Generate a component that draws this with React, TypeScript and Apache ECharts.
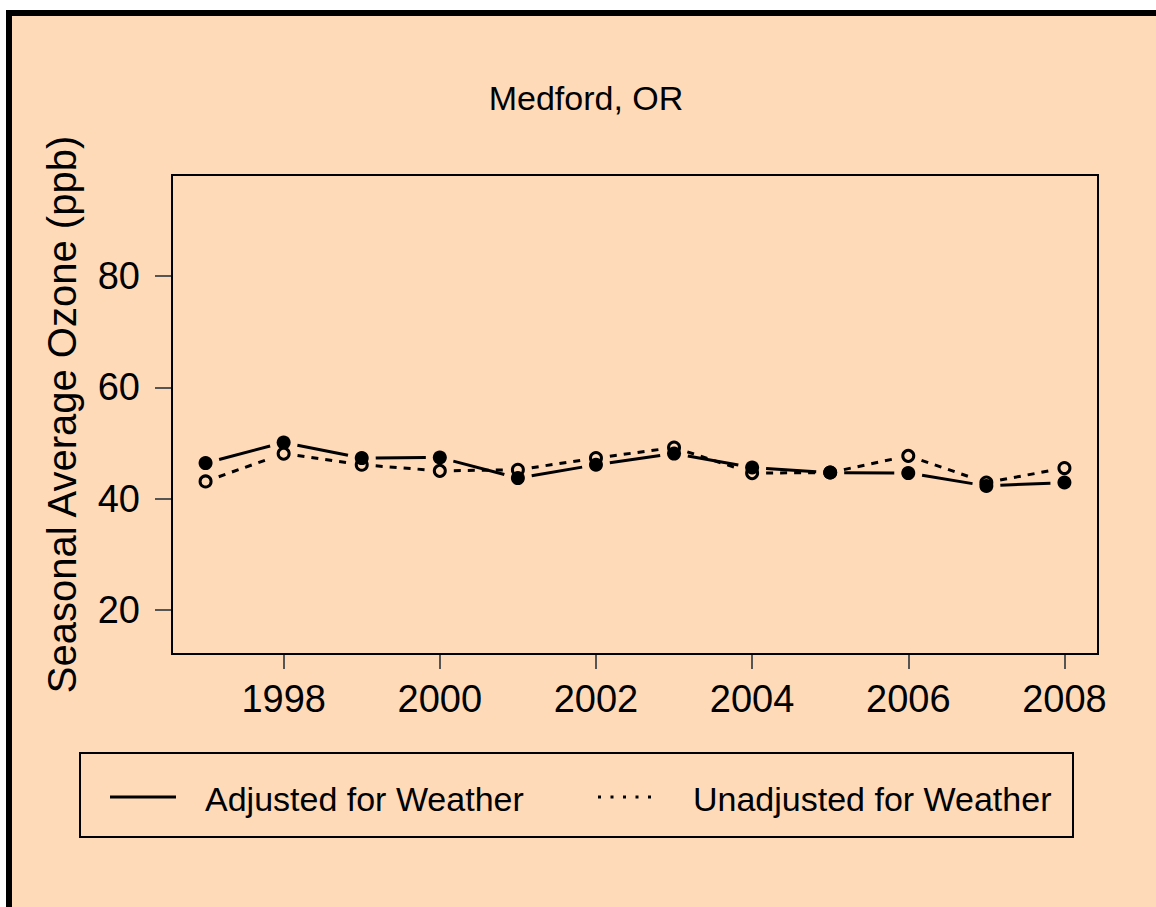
import React, { useEffect, useRef } from "react";
import * as echarts from "echarts";

const years = [1997, 1998, 1999, 2000, 2001, 2002, 2003, 2004, 2005, 2006, 2007, 2008];
const adjusted = [46.4, 50.1, 47.3, 47.4, 43.7, 46.1, 48.1, 45.6, 44.7, 44.6, 42.3, 42.9];
const unadjusted = [43.1, 48.1, 46.1, 45.0, 45.2, 47.3, 49.2, 44.6, 44.7, 47.7, 42.9, 45.5];
const xTicks = [1998, 2000, 2002, 2004, 2006, 2008];
const yTicks = [20, 40, 60, 80];
const titleText = "Medford, OR";
const yName = "Seasonal Average Ozone (ppb)";
const legendLabels = ["Adjusted for Weather", "Unadjusted for Weather"];

const FONT = "'Liberation Sans', Arial, sans-serif";
const PEACH = "#FFDAB9";

function segments(vals: number[]) {
  const out: number[][] = [];
  for (let i = 0; i < years.length - 1; i++) {
    out.push([years[i], vals[i], years[i + 1], vals[i + 1]]);
  }
  return out;
}

function gapLine(dash: number[] | null) {
  return (params: any, api: any) => {
    const p1 = api.coord([api.value(0), api.value(1)]);
    const p2 = api.coord([api.value(2), api.value(3)]);
    const dx = p2[0] - p1[0];
    const dy = p2[1] - p1[1];
    const len = Math.sqrt(dx * dx + dy * dy);
    const gap = 14;
    if (len <= 2 * gap) return null;
    const ux = dx / len;
    const uy = dy / len;
    return {
      type: "line",
      shape: {
        x1: p1[0] + ux * gap,
        y1: p1[1] + uy * gap,
        x2: p2[0] - ux * gap,
        y2: p2[1] - uy * gap,
      },
      style: {
        stroke: "#000",
        lineWidth: 3,
        lineDash: dash || undefined,
        lineCap: "butt",
      },
    };
  };
}

export default function App() {
  const ref = useRef<HTMLDivElement>(null);
  useEffect(() => {
    if (!ref.current) return;
    const chart = echarts.init(ref.current, undefined, { renderer: "svg" });
    chart.setOption({
      animation: false,
      backgroundColor: "#ffffff",
      title: {
        text: titleText,
        left: 581,
        top: 76,
        textAlign: "center",
        textStyle: { fontSize: 34, fontWeight: "normal", color: "#000", fontFamily: FONT },
      },
      grid: {
        left: 172,
        top: 175,
        width: 926,
        height: 479,
        show: true,
        borderColor: "#000",
        borderWidth: 2,
        backgroundColor: "transparent",
        z: 3,
      },
      xAxis: {
        type: "value",
        min: 1996.57,
        max: 2008.43,
        splitLine: { show: false },
        axisLine: { show: false },
        axisTick: {
          show: true,
          length: 15,
          lineStyle: { color: "#555", width: 2 },
          customValues: xTicks,
        },
        axisLabel: {
          fontSize: 38,
          color: "#000",
          fontFamily: FONT,
          margin: 26,
          customValues: xTicks,
          formatter: (v: number) => String(v),
        },
      },
      yAxis: {
        type: "value",
        min: 12.07,
        max: 98.2,
        name: yName,
        nameLocation: "middle",
        nameGap: 90,
        nameTextStyle: { fontSize: 40, color: "#000", fontFamily: FONT },
        splitLine: { show: false },
        axisLine: { show: false },
        axisTick: {
          show: true,
          length: 17,
          lineStyle: { color: "#555", width: 2 },
          customValues: yTicks,
        },
        axisLabel: {
          fontSize: 38,
          color: "#000",
          fontFamily: FONT,
          margin: 32,
          customValues: yTicks,
          formatter: (v: number) => String(v),
        },
      },
      graphic: [
        {
          type: "rect",
          z: -10,
          silent: true,
          shape: { x: 6, y: 10, width: 1156, height: 907 },
          style: { fill: PEACH },
        },
        {
          type: "rect",
          z: -9,
          silent: true,
          shape: { x: 6, y: 10, width: 1156, height: 6 },
          style: { fill: "#000" },
        },
        {
          type: "rect",
          z: -9,
          silent: true,
          shape: { x: 6, y: 10, width: 6, height: 907 },
          style: { fill: "#000" },
        },
        {
          type: "rect",
          silent: true,
          shape: { x: 80, y: 753, width: 993, height: 84 },
          style: { fill: "none", stroke: "#000", lineWidth: 2 },
        },
        {
          type: "line",
          silent: true,
          shape: { x1: 110, y1: 797, x2: 176, y2: 797 },
          style: { stroke: "#000", lineWidth: 3 },
        },
        {
          type: "text",
          silent: true,
          x: 205,
          y: 799,
          style: {
            text: legendLabels[0],
            font: `34px ${FONT}`,
            fill: "#000",
            textVerticalAlign: "middle",
          },
        },
        {
          type: "line",
          silent: true,
          shape: { x1: 598, y1: 797, x2: 658, y2: 797 },
          style: { stroke: "#000", lineWidth: 3, lineDash: [3, 9.5] },
        },
        {
          type: "text",
          silent: true,
          x: 693,
          y: 799,
          style: {
            text: legendLabels[1],
            font: `34px ${FONT}`,
            fill: "#000",
            textVerticalAlign: "middle",
          },
        },
      ],
      series: [
        {
          type: "custom",
          name: legendLabels[0],
          renderItem: gapLine(null),
          data: segments(adjusted),
          encode: { x: [0, 2], y: [1, 3] },
          z: 2,
          silent: true,
        },
        {
          type: "custom",
          name: legendLabels[1],
          renderItem: gapLine([7, 7]),
          data: segments(unadjusted),
          encode: { x: [0, 2], y: [1, 3] },
          z: 2,
          silent: true,
        },
        {
          type: "scatter",
          name: legendLabels[0] + " points",
          data: years.map((y, i) => [y, adjusted[i]]),
          symbol: "circle",
          symbolSize: 14,
          itemStyle: { color: "#000", opacity: 1 },
          z: 4,
          silent: true,
        },
        {
          type: "scatter",
          name: legendLabels[1] + " points",
          data: years.map((y, i) => [y, unadjusted[i]]),
          symbol: "circle",
          symbolSize: 11,
          itemStyle: { color: "rgba(0,0,0,0)", borderColor: "#000", borderWidth: 3, opacity: 1 },
          z: 5,
          silent: true,
        },
      ],
    });
    return () => chart.dispose();
  }, []);
  return (
    <div
      ref={ref}
      style={{ position: "absolute", left: 0, top: 0, width: 1156, height: 907 }}
    />
  );
}
